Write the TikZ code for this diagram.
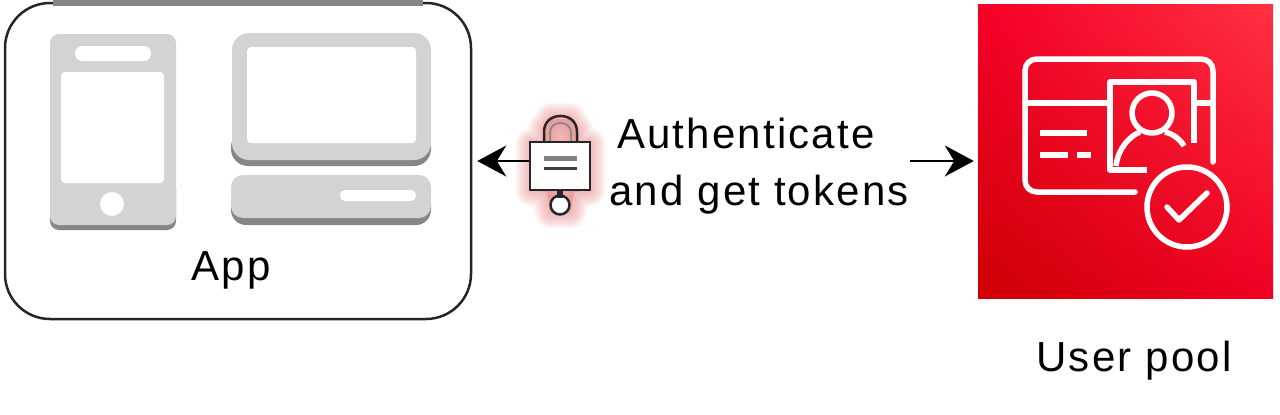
\documentclass[tikz,border=0pt]{standalone}
\usepackage{fontspec}
\setmainfont[LetterSpace=5.2]{Liberation Sans}
\usetikzlibrary{arrows.meta,shadings}
\definecolor{devgray}{HTML}{D2D4D4}
\definecolor{devshadow}{HTML}{858787}
\definecolor{glow}{HTML}{EE9090}
\definecolor{poolul}{RGB}{245,0,40}
\definecolor{poolur}{RGB}{255,50,65}
\definecolor{poolll}{RGB}{205,0,5}
\definecolor{poollr}{RGB}{240,0,35}
\tikzset{
  x=1pt,y=-1pt,
  lbl/.style={inner sep=0pt,font=\fontsize{42}{50}\selectfont,text=black},
  flow/.style={line width=2pt,draw=black,-{Stealth[length=29pt,width=31pt]}},
  dev/.style={fill=devgray,draw=none},
  devshade/.style={fill=devshadow,draw=none},
  hole/.style={fill=white,draw=none},
  ico/.style={draw=white,line width=5.5pt,line cap=round,line join=round}
}
\begin{document}
\begin{tikzpicture}
\useasboundingbox (0,0) rectangle (1280,415);
\fill[white] (0,0) rectangle (1280,415);
% app box
\node[draw=black!85,line width=2.5pt,rounded corners=45pt,minimum width=466pt,minimum height=316pt,inner sep=0pt,anchor=center] (app) at (238,161) {};
\fill[devshadow] (53,0) rectangle (423,6);
% phone
\fill[devshade,rounded corners=9pt] (50,180) rectangle (176,230);
\fill[dev,rounded corners=9pt] (50,34) rectangle (176,225);
\fill[hole,rounded corners=7pt] (75,46) rectangle (151,61);
\fill[hole,rounded corners=4pt] (61,72) rectangle (164,183);
\fill[hole] (112,204) circle (12);
% monitor
\fill[devshade,rounded corners=17pt] (231,130) rectangle (431,166);
\fill[dev,rounded corners=17pt] (232,33) rectangle (431,160);
\fill[hole,rounded corners=4pt] (247,47) rectangle (416,143);
% base
\fill[devshade,rounded corners=15pt] (231,190) rectangle (431,225);
\fill[dev,rounded corners=12pt] (231,175) rectangle (431,218);
\fill[hole,rounded corners=5pt] (340,190) rectangle (416,201);
\node[lbl] (applabel) at (231,270) {App};
% glow
\foreach \w in {33,30,27,24,21,18,15,12,9,6,3}{
  \draw[draw=glow,fill=glow,opacity=.08,line width=\w pt,line join=round]
    (532,144) -- (544,144) -- (544,130) -- (552,119) -- (569,119) -- (577,130) -- (577,144) -- (589,144) -- (589,190) -- (574,192) -- (570,212) -- (551,212) -- (547,192) -- (532,190) -- cycle;
}
% lock
\draw[draw=black!85,line width=2.5pt] (544,145) -- (544,132) .. controls (544,122) and (551,116) .. (560.5,116) .. controls (570,116) and (577,122) .. (577,132) -- (577,145);
\draw[draw=black!45,line width=2pt] (550,145) -- (550,133) .. controls (550,126) and (555,123) .. (560.5,123) .. controls (566,123) and (571,126) .. (571,133) -- (571,145);
\node[draw=black!85,fill=white,line width=2.5pt,minimum width=60pt,minimum height=48pt,inner sep=0pt] (lock) at (560,166) {};
\draw[draw=black!50,line width=5pt] (544,158.5) -- (577,158.5);
\draw[draw=black!75,line width=3pt] (544,168.5) -- (577,168.5);
\draw[draw=black!85,fill=white,line width=2.5pt] (560,205) circle (9.5);
\fill[white] (560,198) -- (555,208) -- (565,208) -- cycle;
\fill[black!85] (557,190) rectangle (563,198);
% pool
\node[minimum width=295pt,minimum height=294pt,inner sep=0pt,
  upper left=poolul,upper right=poolur,lower left=poolll,lower right=poollr] (pool) at (1125.5,151) {};
% pool icon
\draw[ico] (1213,162) -- (1213,71) .. controls (1213,64) and (1208,59) .. (1201,59) -- (1037,59) .. controls (1030,59) and (1025,64) .. (1025,71) -- (1025,180) .. controls (1025,187) and (1030,192) .. (1037,192) -- (1135,192);
\draw[ico] (1025,103) -- (1107,103);
\draw[ico] (1197,103) -- (1213,103);
\draw[ico,line cap=butt] (1194,143) -- (1194,82) -- (1110,82) -- (1110,170) -- (1147,170);
\draw[ico] (1152,113) circle (20);
\draw[ico,line cap=butt] (1116,166) .. controls (1118,148) and (1130,136) .. (1140,132);
\draw[ico,line cap=butt] (1165,132) .. controls (1173,134) and (1180,139) .. (1184,146);
\draw[ico,line cap=butt] (1040,133) -- (1087,133);
\draw[ico,line cap=butt] (1040,155) -- (1068,155);
\draw[ico,line cap=butt] (1077,155) -- (1091,155);
\draw[ico] (1187,207) circle (40);
\draw[ico] (1167,207) -- (1179,220) -- (1207,193);
% labels
\node[lbl] (auth) at (746,133) {Authenticate};
\node[lbl] (tok) at (759,195) {and get tokens};
\node[lbl] (poollabel) at (1134,361) {User pool};
% connectors
\coordinate (rstart) at (910,161);
\draw[flow,shorten >=5pt] ([yshift=5pt]lock.west) -- (app.east);
\draw[flow,shorten >=4pt] (rstart) -- ([yshift=-10pt]pool.west);
\end{tikzpicture}
\end{document}
